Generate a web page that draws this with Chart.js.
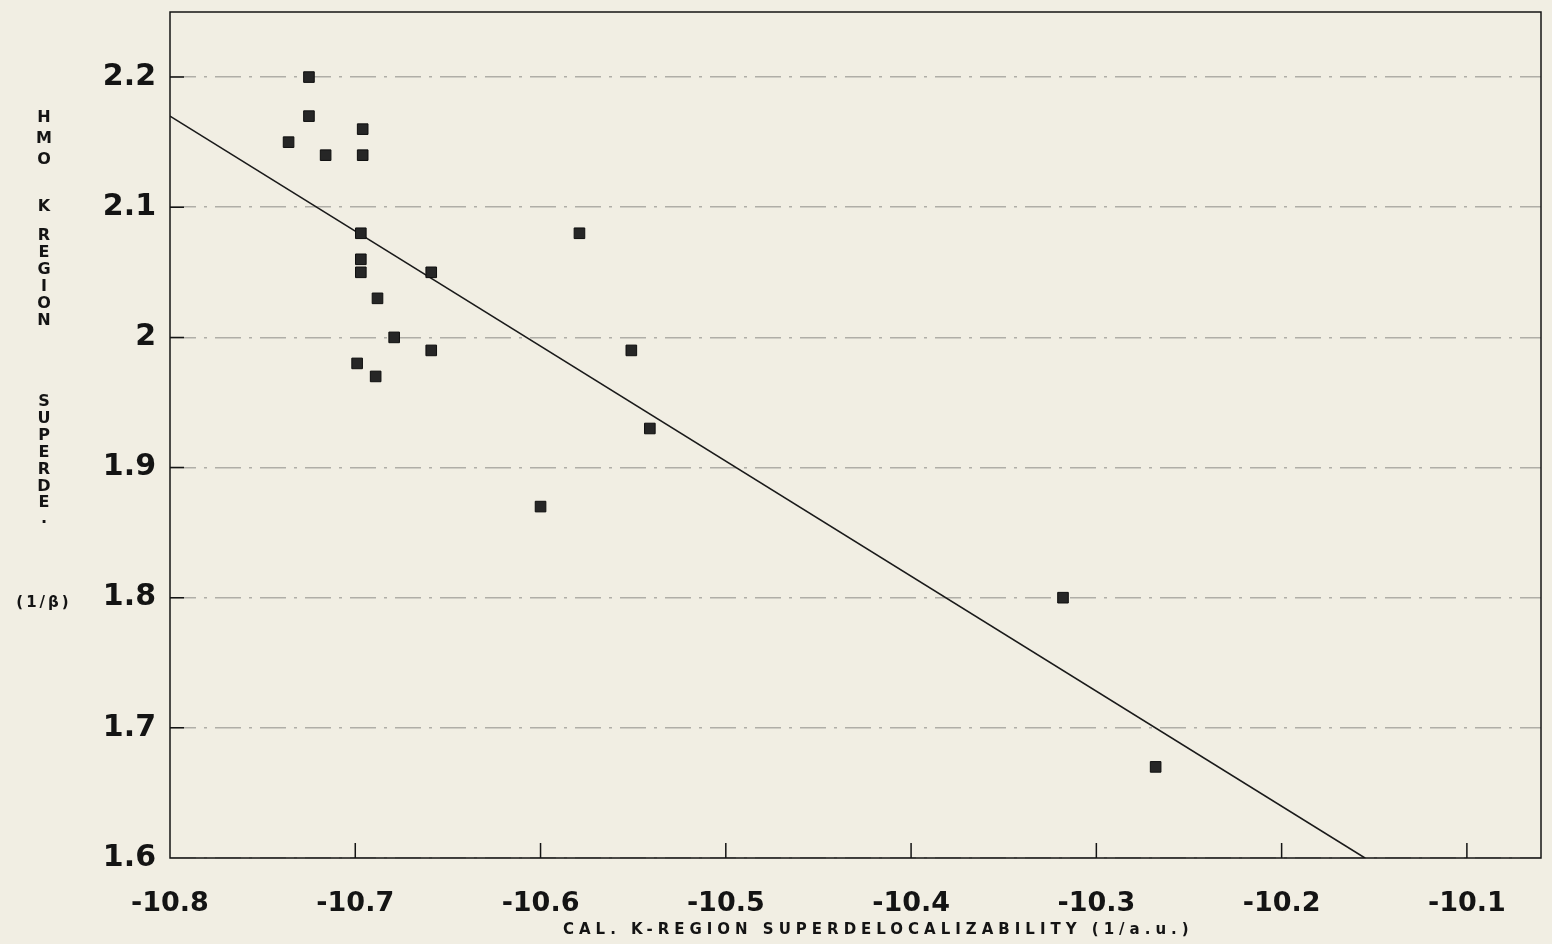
<!DOCTYPE html>
<html>
<head>
<meta charset="utf-8">
<script src="https://cdn.jsdelivr.net/npm/chart.js@4/dist/chart.umd.min.js"></script>
<style>
  html, body { margin: 0; padding: 0; background: #f1eee3; }
</style>
</head>
<body>
<canvas id="plot" width="1552" height="944"></canvas>
<script>
// measured points (K-region superdelocalizability vs HMO value)
const xValues = [-10.725, -10.725, -10.736, -10.716, -10.696, -10.696, -10.697, -10.697, -10.697, -10.688, -10.659,
                 -10.679, -10.659, -10.699, -10.689, -10.579, -10.551, -10.541, -10.600, -10.318, -10.268];
const yValues = [2.20, 2.17, 2.15, 2.14, 2.16, 2.14, 2.08, 2.06, 2.05, 2.03, 2.05,
                 2.00, 1.99, 1.98, 1.97, 2.08, 1.99, 1.93, 1.87, 1.80, 1.67];

// fitted line end points
const fitX = [-10.8, -10.155];
const fitY = [2.17, 1.60];

const xTickValues = [-10.8, -10.7, -10.6, -10.5, -10.4, -10.3, -10.2, -10.1];
const xTickLabels = ['-10.8', '-10.7', '-10.6', '-10.5', '-10.4', '-10.3', '-10.2', '-10.1'];
const yTickValues = [1.6, 1.7, 1.8, 1.9, 2.0, 2.1, 2.2];
const yTickLabels = ['1.6', '1.7', '1.8', '1.9', '2', '2.1', '2.2'];

const xTitle = 'CAL. K-REGION SUPERDELOCALIZABILITY (1/a.u.)';
const yTitleChars = ['H','M','O','K','R','E','G','I','O','N','S','U','P','E','R','D','E','.'];
const yTitleUnit = '(1/\u03b2)';

const INK = '#141414';
const PAPER = '#f1eee3';

// layout of the stacked y title (one letter per row)
const yTitleRows = [118, 139, 160, 207, 236, 253, 270, 287, 304, 321, 402, 419, 436, 453, 470, 487, 503, 519];

const paperPlugin = {
  id: 'paper',
  beforeDraw(chart) {
    const c = chart.ctx;
    c.save();
    c.fillStyle = PAPER;
    c.fillRect(0, 0, chart.width, chart.height);
    c.restore();
  },
  afterDraw(chart) {
    const { ctx, chartArea: a, scales: { x, y } } = chart;
    ctx.save();
    ctx.strokeStyle = INK;
    ctx.lineWidth = 1.5;
    ctx.strokeRect(a.left, a.top, a.right - a.left, a.bottom - a.top);

    // short ticks pointing into the plot
    ctx.beginPath();
    x.ticks.forEach(t => {
      const px = x.getPixelForValue(t.value);
      if (px > a.left + 2) { ctx.moveTo(px, a.bottom); ctx.lineTo(px, a.bottom - 15); }
    });
    y.ticks.forEach(t => {
      const py = y.getPixelForValue(t.value);
      if (py < a.bottom - 2) { ctx.moveTo(a.left, py); ctx.lineTo(a.left + 14, py); }
    });
    ctx.stroke();

    ctx.fillStyle = INK;
    ctx.textAlign = 'center';
    ctx.textBaseline = 'middle';
    ctx.font = 'bold 16px "DejaVu Sans"';
    yTitleChars.forEach((ch, i) => ctx.fillText(ch, 44, yTitleRows[i]));
    ctx.font = 'bold 15px "DejaVu Sans"';
    ctx.letterSpacing = '3px';
    ctx.fillText(yTitleUnit, 44, 603);

    ctx.font = 'bold 15px "DejaVu Sans"';
    ctx.letterSpacing = '5px';
    ctx.textAlign = 'left';
    ctx.fillText(xTitle, 563, 930);
    ctx.restore();
  }
};

new Chart(document.getElementById('plot'), {
  type: 'scatter',
  data: {
    datasets: [
      {
        data: xValues.map((v, i) => ({ x: v, y: yValues[i] })),
        pointStyle: 'rect',
        pointRadius: 7.5,
        backgroundColor: '#262626',
        borderColor: '#0e0e0e',
        borderWidth: 1
      },
      {
        data: fitX.map((v, i) => ({ x: v, y: fitY[i] })),
        showLine: true,
        pointRadius: 0,
        borderColor: '#1a1a1a',
        borderWidth: 1.6
      }
    ]
  },
  options: {
    responsive: false,
    animation: false,
    layout: { padding: { top: 12, right: 11, left: 0, bottom: 0 } },
    plugins: { legend: { display: false }, tooltip: { enabled: false } },
    scales: {
      x: {
        type: 'linear',
        min: -10.8,
        max: -10.06,
        afterBuildTicks: s => { s.ticks = xTickValues.map(v => ({ value: v })); },
        afterFit: s => { s.height = 86; },
        grid: { display: false, drawTicks: false },
        border: { display: false },
        ticks: {
          callback: (v, i) => xTickLabels[i],
          autoSkip: false,
          maxRotation: 0,
          padding: 30,
          color: INK,
          font: { family: 'DejaVu Sans', weight: 'bold', size: 27 }
        }
      },
      y: {
        type: 'linear',
        min: 1.6,
        max: 2.25,
        afterBuildTicks: s => { s.ticks = yTickValues.map(v => ({ value: v })); },
        afterFit: s => { s.width = 170; s.paddingTop = 0; s.paddingBottom = 0; },
        grid: { color: 'rgba(70,70,70,0.38)', lineWidth: 1.5, drawTicks: false },
        border: { display: false, dash: [26, 8, 3, 8] },
        ticks: {
          callback: (v, i) => yTickLabels[i],
          autoSkip: false,
          padding: 14,
          color: INK,
          font: { family: 'DejaVu Sans', weight: 'bold', size: 30 }
        }
      }
    }
  },
  plugins: [paperPlugin]
});
</script>
</body>
</html>
